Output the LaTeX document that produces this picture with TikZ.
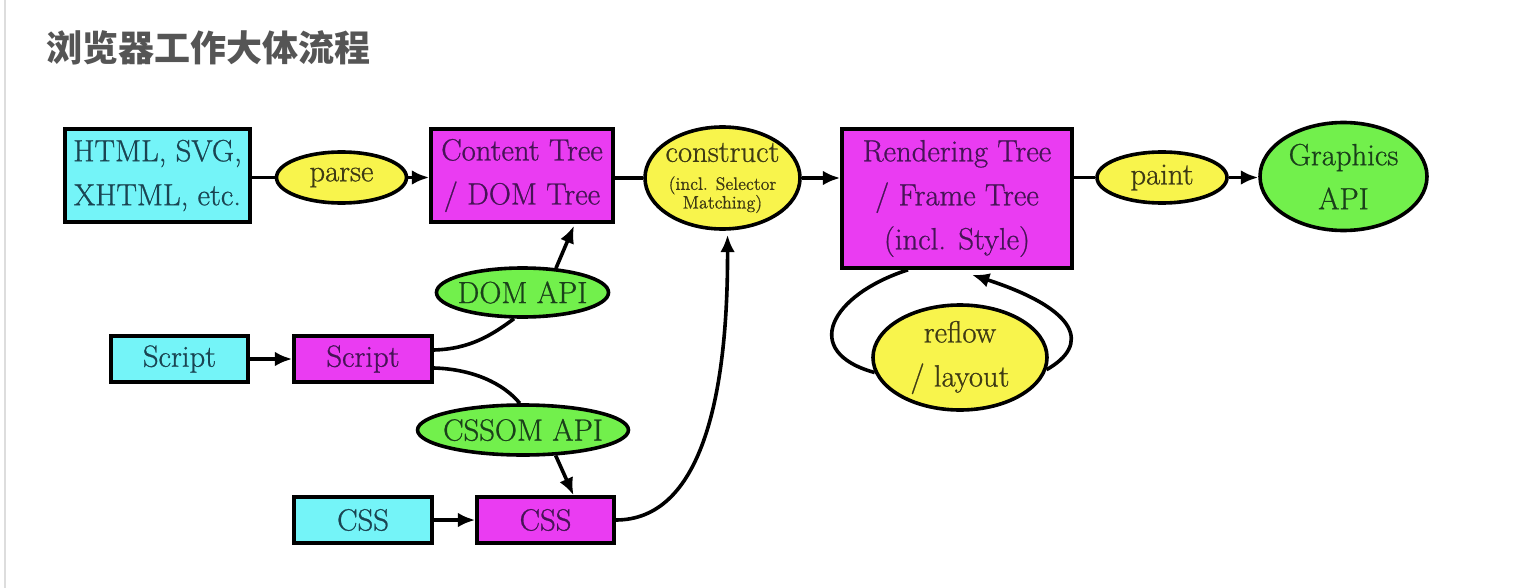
\documentclass[tikz,border=0pt]{standalone}
\usepackage{fontspec}
\newfontfamily\cjk{Noto Sans CJK SC}
\newfontfamily\diag{Latin Modern Roman}[FakeBold=0.8]
\usetikzlibrary{arrows.meta,calc,shapes.geometric}
\definecolor{cyanf}{HTML}{74F4F8}
\definecolor{magf}{HTML}{EA3CF2}
\definecolor{yelf}{HTML}{F8F44C}
\definecolor{grnf}{HTML}{72F04C}
\definecolor{cyant}{HTML}{1A4452}
\definecolor{magt}{HTML}{461456}
\definecolor{yelt}{HTML}{3E3A14}
\definecolor{grnt}{HTML}{1A401A}
\definecolor{titlegray}{HTML}{555555}
\definecolor{edgegray}{HTML}{DDDDDD}
\begin{document}
\begin{tikzpicture}[x=0.75pt,y=-0.75pt,
  base/.style={draw=black, line width=2.7pt, inner sep=0pt, align=center,
    font=\diag\fontsize{23}{33}\selectfont},
  cbox/.style={base, rectangle, fill=cyanf, text=cyant},
  mbox/.style={base, rectangle, fill=magf, text=magt},
  yell/.style={base, ellipse, fill=yelf, text=yelt},
  gell/.style={base, ellipse, fill=grnf, text=grnt},
  conn/.style={line width=2.7pt, draw=black},
  arr/.style={conn, -{Latex[length=13pt,width=11pt]}}
]
\useasboundingbox (0,0) rectangle (1516,588);
\fill[white] (0,0) rectangle (1516,588);
\draw[edgegray, line width=1.8pt] (5,0) -- (5,588);

\node[anchor=west, text=titlegray, inner sep=0pt,
  font=\cjk\bfseries\fontsize{27}{30}\selectfont] (title) at (46,48) {浏览器工作大体流程};

% top row
\node[cbox, minimum width=138.75pt, minimum height=69.75pt] (html) at (157.5,175.5) {HTML, SVG,\\XHTML, etc.};
\node[yell, minimum width=97.5pt, minimum height=38.25pt] (parse) at (341.5,177.5) {parse};
\node[mbox, minimum width=136.5pt, minimum height=69.75pt] (content) at (522,175.5) {Content Tree\\/ DOM Tree};
\node[yell, minimum width=116.25pt, minimum height=76.5pt, inner sep=-10pt] (construct) at (722.5,178)
  {construct\\[-12pt]{\fontsize{13.5}{14}\selectfont(incl. Selector}\\[-19pt]{\fontsize{13.5}{14}\selectfont Matching)}};
\node[mbox, minimum width=172.5pt, minimum height=104.25pt] (render) at (957,198.5) {Rendering Tree\\/ Frame Tree\\(incl. Style)};
\node[yell, minimum width=97.5pt, minimum height=38.25pt] (paint) at (1162,177.5) {paint};
\node[gell, minimum width=125.25pt, minimum height=81pt] (graphics) at (1343.5,176.5) {Graphics\\API};

% reflow
\node[yell, minimum width=130.5pt, minimum height=78.75pt] (reflow) at (960,357.5) {reflow\\/ layout};

% script / css
\node[gell, minimum width=128.25pt, minimum height=36.75pt, inner sep=-3pt] (dom) at (522.5,292.5) {DOM API};
\node[cbox, minimum width=102.75pt, minimum height=34.5pt] (scriptc) at (179.5,359) {Script};
\node[mbox, minimum width=103.5pt, minimum height=34.5pt] (scriptm) at (363,359) {Script};
\node[gell, minimum width=150pt, minimum height=37.5pt, inner sep=-4pt] (cssom) at (523,430) {CSSOM API};
\node[cbox, minimum width=103.5pt, minimum height=34.5pt] (cssc) at (363,520) {CSS};
\node[mbox, minimum width=102.75pt, minimum height=34.5pt] (cssm) at (545.5,520) {CSS};

% top row connectors
\draw[conn] (html.east |- parse) -- (parse.west);
\draw[arr] (parse.east) -- (parse.east -| content.west);
\draw[conn] (content.east |- construct) -- (construct.west);
\draw[arr] (construct.east) -- (construct.east -| render.west);
\draw[conn] (render.east |- paint) -- (paint.west);
\draw[arr] (paint.east) -- (paint.east -| graphics.west);

% reflow loop
\draw[conn] ($(render.south)+(-49,0)$) .. controls (830,295) and (800,352) .. (reflow.190);
\draw[arr] (reflow.-8) .. controls (1090,345) and (1080,310) .. ($(render.south)+(15,5)$);

% script / css connectors
\draw[arr] (scriptc.east) -- (scriptm.west);
\draw[arr] (cssc.east) -- (cssm.west);
\draw[conn] ($(scriptm.east)+(0,-9)$) .. controls (470,349) and (492,335) .. (dom.252);
\draw[arr] (dom.36) -- ($(content.south)+(52,2)$);
\draw[conn] ($(scriptm.east)+(0,9)$) .. controls (472,369) and (503,383) .. (cssom.97);
\draw[arr] (cssom.-38) -- ($(cssm.north)+(28,0)$);
\draw[arr] (cssm.east) .. controls (700,520) and (728,400) .. ($(construct.south)+(5,4)$);
\end{tikzpicture}
\end{document}
